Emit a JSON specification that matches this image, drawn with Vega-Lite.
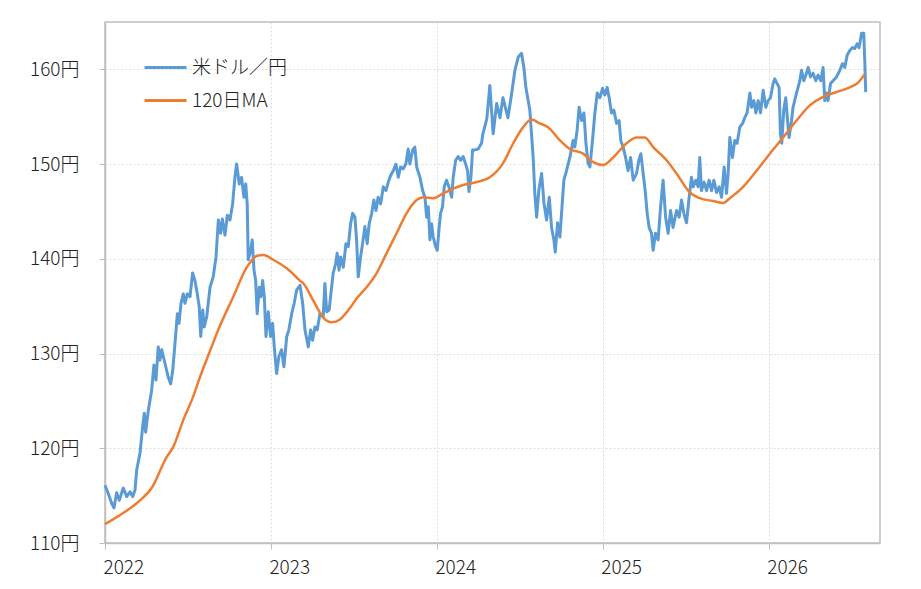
{
  "$schema": "https://vega.github.io/schema/vega-lite/v6.json",
  "width": 775,
  "height": 521,
  "autosize": {"type": "none"},
  "padding": {"left": 105, "top": 22, "right": 41, "bottom": 46},
  "background": "white",
  "config": {
    "font": "Noto Sans CJK JP",
    "view": {"stroke": "#bfbfbf", "strokeWidth": 1.5},
    "axis": {
      "title": null,
      "grid": true,
      "gridColor": "#dddddd",
      "gridDash": [2, 2],
      "gridWidth": 1,
      "domainColor": "#bfbfbf",
      "domainWidth": 1.5,
      "tickColor": "#bfbfbf",
      "tickSize": 6,
      "labelFontSize": 19,
      "labelFontWeight": 300,
      "labelColor": "#222222",
      "labelFont": "Noto Sans CJK JP"
    },
    "legend": {
      "orient": "none",
      "legendX": 38,
      "legendY": 23,
      "title": null,
      "padding": 0,
      "symbolType": "stroke",
      "symbolSize": 1764,
      "symbolStrokeWidth": 3,
      "labelFontSize": 19,
      "labelFontWeight": 300,
      "labelColor": "#222222",
      "labelOffset": 4,
      "rowPadding": -12
    }
  },
  "encoding": {
    "x": {
      "field": "year",
      "type": "quantitative",
      "scale": {"domain": [2022, 2026.67], "nice": false, "zero": false},
      "axis": {
        "values": [2022, 2023, 2024, 2025, 2026],
        "format": "d",
        "labelAlign": "left",
        "labelOffset": -2,
        "labelPadding": 9,
        "labelBaseline": "top"
      }
    },
    "y": {
      "field": "value",
      "type": "quantitative",
      "scale": {"domain": [110, 165], "nice": false, "zero": false},
      "axis": {
        "values": [110, 120, 130, 140, 150, 160],
        "labelExpr": "datum.value + '円'",
        "labelPadding": 20
      }
    }
  },
  "layer": [
    {
      "data": {"values": [
        {"year": 2022.000, "value": 116.1},
        {"year": 2022.020, "value": 115.2},
        {"year": 2022.040, "value": 114.2},
        {"year": 2022.054, "value": 113.7},
        {"year": 2022.070, "value": 115.3},
        {"year": 2022.086, "value": 114.5},
        {"year": 2022.110, "value": 115.8},
        {"year": 2022.131, "value": 114.9},
        {"year": 2022.151, "value": 115.4},
        {"year": 2022.167, "value": 114.9},
        {"year": 2022.181, "value": 115.6},
        {"year": 2022.191, "value": 117.7},
        {"year": 2022.211, "value": 119.5},
        {"year": 2022.227, "value": 122.3},
        {"year": 2022.237, "value": 123.7},
        {"year": 2022.245, "value": 121.7},
        {"year": 2022.261, "value": 124.0},
        {"year": 2022.281, "value": 126.1},
        {"year": 2022.295, "value": 128.8},
        {"year": 2022.307, "value": 127.2},
        {"year": 2022.321, "value": 130.7},
        {"year": 2022.331, "value": 129.3},
        {"year": 2022.342, "value": 130.4},
        {"year": 2022.361, "value": 129.0},
        {"year": 2022.381, "value": 127.5},
        {"year": 2022.396, "value": 126.8},
        {"year": 2022.408, "value": 128.2},
        {"year": 2022.422, "value": 131.1},
        {"year": 2022.436, "value": 134.2},
        {"year": 2022.446, "value": 133.2},
        {"year": 2022.458, "value": 135.3},
        {"year": 2022.472, "value": 136.3},
        {"year": 2022.482, "value": 135.3},
        {"year": 2022.496, "value": 136.3},
        {"year": 2022.512, "value": 136.0},
        {"year": 2022.528, "value": 138.5},
        {"year": 2022.542, "value": 137.7},
        {"year": 2022.556, "value": 136.3},
        {"year": 2022.568, "value": 134.9},
        {"year": 2022.577, "value": 131.8},
        {"year": 2022.589, "value": 134.6},
        {"year": 2022.598, "value": 132.8},
        {"year": 2022.613, "value": 133.9},
        {"year": 2022.633, "value": 137.0},
        {"year": 2022.652, "value": 138.1},
        {"year": 2022.669, "value": 140.2},
        {"year": 2022.683, "value": 144.1},
        {"year": 2022.697, "value": 142.7},
        {"year": 2022.707, "value": 144.2},
        {"year": 2022.723, "value": 142.5},
        {"year": 2022.737, "value": 144.6},
        {"year": 2022.753, "value": 144.1},
        {"year": 2022.769, "value": 145.8},
        {"year": 2022.783, "value": 148.6},
        {"year": 2022.793, "value": 150.0},
        {"year": 2022.809, "value": 147.9},
        {"year": 2022.823, "value": 148.6},
        {"year": 2022.837, "value": 146.5},
        {"year": 2022.848, "value": 147.9},
        {"year": 2022.857, "value": 145.8},
        {"year": 2022.863, "value": 139.9},
        {"year": 2022.878, "value": 140.9},
        {"year": 2022.887, "value": 142.0},
        {"year": 2022.898, "value": 138.8},
        {"year": 2022.908, "value": 137.7},
        {"year": 2022.917, "value": 134.2},
        {"year": 2022.930, "value": 137.0},
        {"year": 2022.940, "value": 136.0},
        {"year": 2022.950, "value": 137.7},
        {"year": 2022.960, "value": 136.0},
        {"year": 2022.970, "value": 131.8},
        {"year": 2022.984, "value": 134.4},
        {"year": 2022.998, "value": 131.8},
        {"year": 2023.010, "value": 133.2},
        {"year": 2023.020, "value": 130.7},
        {"year": 2023.034, "value": 127.9},
        {"year": 2023.048, "value": 129.7},
        {"year": 2023.064, "value": 130.4},
        {"year": 2023.078, "value": 128.6},
        {"year": 2023.095, "value": 131.8},
        {"year": 2023.108, "value": 132.5},
        {"year": 2023.125, "value": 134.2},
        {"year": 2023.140, "value": 135.3},
        {"year": 2023.155, "value": 136.7},
        {"year": 2023.175, "value": 137.2},
        {"year": 2023.191, "value": 135.3},
        {"year": 2023.205, "value": 132.5},
        {"year": 2023.225, "value": 130.7},
        {"year": 2023.239, "value": 132.5},
        {"year": 2023.251, "value": 131.4},
        {"year": 2023.265, "value": 132.8},
        {"year": 2023.279, "value": 132.5},
        {"year": 2023.295, "value": 134.2},
        {"year": 2023.315, "value": 133.9},
        {"year": 2023.325, "value": 137.4},
        {"year": 2023.336, "value": 134.4},
        {"year": 2023.351, "value": 134.6},
        {"year": 2023.361, "value": 136.3},
        {"year": 2023.375, "value": 138.5},
        {"year": 2023.390, "value": 139.5},
        {"year": 2023.399, "value": 140.6},
        {"year": 2023.410, "value": 138.8},
        {"year": 2023.420, "value": 140.2},
        {"year": 2023.436, "value": 139.1},
        {"year": 2023.452, "value": 141.6},
        {"year": 2023.466, "value": 141.3},
        {"year": 2023.480, "value": 143.7},
        {"year": 2023.492, "value": 144.8},
        {"year": 2023.506, "value": 144.4},
        {"year": 2023.516, "value": 142.0},
        {"year": 2023.526, "value": 138.1},
        {"year": 2023.540, "value": 140.2},
        {"year": 2023.552, "value": 141.6},
        {"year": 2023.566, "value": 143.4},
        {"year": 2023.580, "value": 141.6},
        {"year": 2023.592, "value": 143.7},
        {"year": 2023.607, "value": 144.8},
        {"year": 2023.620, "value": 146.2},
        {"year": 2023.633, "value": 145.1},
        {"year": 2023.646, "value": 146.5},
        {"year": 2023.661, "value": 145.8},
        {"year": 2023.677, "value": 147.6},
        {"year": 2023.693, "value": 147.2},
        {"year": 2023.707, "value": 148.1},
        {"year": 2023.721, "value": 148.8},
        {"year": 2023.737, "value": 149.3},
        {"year": 2023.753, "value": 150.0},
        {"year": 2023.767, "value": 148.6},
        {"year": 2023.781, "value": 149.7},
        {"year": 2023.797, "value": 149.5},
        {"year": 2023.813, "value": 150.0},
        {"year": 2023.827, "value": 151.6},
        {"year": 2023.837, "value": 150.0},
        {"year": 2023.854, "value": 151.5},
        {"year": 2023.867, "value": 151.8},
        {"year": 2023.878, "value": 149.7},
        {"year": 2023.898, "value": 148.6},
        {"year": 2023.914, "value": 147.2},
        {"year": 2023.928, "value": 146.5},
        {"year": 2023.938, "value": 144.4},
        {"year": 2023.948, "value": 145.5},
        {"year": 2023.958, "value": 142.0},
        {"year": 2023.968, "value": 143.7},
        {"year": 2023.978, "value": 142.3},
        {"year": 2023.992, "value": 141.3},
        {"year": 2024.002, "value": 140.9},
        {"year": 2024.012, "value": 143.0},
        {"year": 2024.022, "value": 144.8},
        {"year": 2024.034, "value": 145.5},
        {"year": 2024.044, "value": 147.6},
        {"year": 2024.058, "value": 148.3},
        {"year": 2024.072, "value": 147.6},
        {"year": 2024.089, "value": 146.5},
        {"year": 2024.098, "value": 148.6},
        {"year": 2024.113, "value": 150.4},
        {"year": 2024.128, "value": 150.8},
        {"year": 2024.143, "value": 150.4},
        {"year": 2024.158, "value": 150.8},
        {"year": 2024.173, "value": 150.0},
        {"year": 2024.185, "value": 149.3},
        {"year": 2024.193, "value": 147.1},
        {"year": 2024.205, "value": 148.6},
        {"year": 2024.215, "value": 151.5},
        {"year": 2024.229, "value": 151.5},
        {"year": 2024.249, "value": 151.6},
        {"year": 2024.269, "value": 152.2},
        {"year": 2024.277, "value": 153.2},
        {"year": 2024.301, "value": 154.8},
        {"year": 2024.319, "value": 158.3},
        {"year": 2024.339, "value": 153.2},
        {"year": 2024.360, "value": 156.4},
        {"year": 2024.380, "value": 154.9},
        {"year": 2024.398, "value": 157.0},
        {"year": 2024.428, "value": 154.9},
        {"year": 2024.450, "value": 157.4},
        {"year": 2024.470, "value": 159.9},
        {"year": 2024.490, "value": 161.3},
        {"year": 2024.510, "value": 161.7},
        {"year": 2024.524, "value": 160.2},
        {"year": 2024.536, "value": 158.1},
        {"year": 2024.550, "value": 156.7},
        {"year": 2024.560, "value": 155.7},
        {"year": 2024.570, "value": 153.2},
        {"year": 2024.580, "value": 150.7},
        {"year": 2024.590, "value": 146.9},
        {"year": 2024.601, "value": 144.4},
        {"year": 2024.614, "value": 147.2},
        {"year": 2024.631, "value": 149.0},
        {"year": 2024.645, "value": 145.9},
        {"year": 2024.661, "value": 144.1},
        {"year": 2024.677, "value": 146.5},
        {"year": 2024.691, "value": 143.3},
        {"year": 2024.705, "value": 142.0},
        {"year": 2024.713, "value": 140.7},
        {"year": 2024.727, "value": 143.8},
        {"year": 2024.741, "value": 142.3},
        {"year": 2024.751, "value": 144.8},
        {"year": 2024.765, "value": 148.3},
        {"year": 2024.781, "value": 149.3},
        {"year": 2024.801, "value": 150.7},
        {"year": 2024.821, "value": 152.5},
        {"year": 2024.831, "value": 151.8},
        {"year": 2024.845, "value": 153.6},
        {"year": 2024.857, "value": 156.0},
        {"year": 2024.872, "value": 154.6},
        {"year": 2024.886, "value": 155.4},
        {"year": 2024.898, "value": 152.2},
        {"year": 2024.911, "value": 150.1},
        {"year": 2024.922, "value": 149.7},
        {"year": 2024.936, "value": 152.2},
        {"year": 2024.952, "value": 155.4},
        {"year": 2024.966, "value": 157.5},
        {"year": 2024.982, "value": 157.0},
        {"year": 2024.998, "value": 158.0},
        {"year": 2025.012, "value": 157.3},
        {"year": 2025.026, "value": 158.1},
        {"year": 2025.038, "value": 157.0},
        {"year": 2025.052, "value": 155.4},
        {"year": 2025.066, "value": 155.7},
        {"year": 2025.083, "value": 154.3},
        {"year": 2025.098, "value": 154.6},
        {"year": 2025.108, "value": 152.5},
        {"year": 2025.122, "value": 151.8},
        {"year": 2025.137, "value": 150.7},
        {"year": 2025.152, "value": 149.3},
        {"year": 2025.167, "value": 150.7},
        {"year": 2025.183, "value": 148.3},
        {"year": 2025.203, "value": 149.0},
        {"year": 2025.217, "value": 150.4},
        {"year": 2025.229, "value": 151.1},
        {"year": 2025.243, "value": 149.0},
        {"year": 2025.255, "value": 147.2},
        {"year": 2025.267, "value": 144.8},
        {"year": 2025.279, "value": 143.3},
        {"year": 2025.293, "value": 142.7},
        {"year": 2025.303, "value": 140.9},
        {"year": 2025.317, "value": 142.7},
        {"year": 2025.333, "value": 142.0},
        {"year": 2025.348, "value": 145.5},
        {"year": 2025.363, "value": 148.3},
        {"year": 2025.378, "value": 144.4},
        {"year": 2025.393, "value": 142.7},
        {"year": 2025.408, "value": 145.1},
        {"year": 2025.423, "value": 143.3},
        {"year": 2025.444, "value": 145.1},
        {"year": 2025.460, "value": 144.4},
        {"year": 2025.474, "value": 146.2},
        {"year": 2025.488, "value": 144.8},
        {"year": 2025.504, "value": 143.8},
        {"year": 2025.520, "value": 146.5},
        {"year": 2025.534, "value": 148.6},
        {"year": 2025.544, "value": 147.6},
        {"year": 2025.560, "value": 148.3},
        {"year": 2025.574, "value": 147.6},
        {"year": 2025.584, "value": 150.7},
        {"year": 2025.594, "value": 147.2},
        {"year": 2025.610, "value": 148.1},
        {"year": 2025.625, "value": 147.2},
        {"year": 2025.640, "value": 148.3},
        {"year": 2025.655, "value": 147.2},
        {"year": 2025.669, "value": 148.3},
        {"year": 2025.685, "value": 147.0},
        {"year": 2025.701, "value": 147.6},
        {"year": 2025.715, "value": 146.5},
        {"year": 2025.731, "value": 149.7},
        {"year": 2025.745, "value": 146.9},
        {"year": 2025.755, "value": 149.0},
        {"year": 2025.765, "value": 152.8},
        {"year": 2025.781, "value": 150.7},
        {"year": 2025.795, "value": 152.5},
        {"year": 2025.809, "value": 152.2},
        {"year": 2025.825, "value": 153.9},
        {"year": 2025.842, "value": 154.3},
        {"year": 2025.855, "value": 154.9},
        {"year": 2025.869, "value": 155.4},
        {"year": 2025.886, "value": 157.5},
        {"year": 2025.896, "value": 156.0},
        {"year": 2025.910, "value": 156.7},
        {"year": 2025.922, "value": 155.4},
        {"year": 2025.936, "value": 156.7},
        {"year": 2025.950, "value": 155.4},
        {"year": 2025.966, "value": 157.8},
        {"year": 2025.982, "value": 156.0},
        {"year": 2025.996, "value": 156.7},
        {"year": 2026.010, "value": 157.0},
        {"year": 2026.026, "value": 158.5},
        {"year": 2026.036, "value": 159.0},
        {"year": 2026.050, "value": 158.5},
        {"year": 2026.062, "value": 158.1},
        {"year": 2026.070, "value": 153.2},
        {"year": 2026.078, "value": 152.2},
        {"year": 2026.090, "value": 155.7},
        {"year": 2026.102, "value": 157.0},
        {"year": 2026.113, "value": 154.6},
        {"year": 2026.122, "value": 152.8},
        {"year": 2026.137, "value": 154.6},
        {"year": 2026.146, "value": 156.0},
        {"year": 2026.167, "value": 157.5},
        {"year": 2026.187, "value": 158.8},
        {"year": 2026.197, "value": 159.9},
        {"year": 2026.211, "value": 158.8},
        {"year": 2026.227, "value": 159.6},
        {"year": 2026.237, "value": 160.2},
        {"year": 2026.251, "value": 159.2},
        {"year": 2026.267, "value": 159.6},
        {"year": 2026.283, "value": 158.8},
        {"year": 2026.297, "value": 159.4},
        {"year": 2026.313, "value": 158.8},
        {"year": 2026.327, "value": 160.2},
        {"year": 2026.337, "value": 156.7},
        {"year": 2026.347, "value": 157.5},
        {"year": 2026.357, "value": 156.7},
        {"year": 2026.372, "value": 158.5},
        {"year": 2026.387, "value": 158.8},
        {"year": 2026.408, "value": 159.2},
        {"year": 2026.428, "value": 159.9},
        {"year": 2026.444, "value": 160.6},
        {"year": 2026.458, "value": 160.2},
        {"year": 2026.472, "value": 161.5},
        {"year": 2026.488, "value": 162.0},
        {"year": 2026.504, "value": 162.3},
        {"year": 2026.518, "value": 162.2},
        {"year": 2026.532, "value": 162.7},
        {"year": 2026.544, "value": 162.3},
        {"year": 2026.559, "value": 163.8},
        {"year": 2026.572, "value": 163.8},
        {"year": 2026.578, "value": 161.0},
        {"year": 2026.584, "value": 157.6}
      ]},
      "mark": {"type": "line", "strokeWidth": 3, "strokeJoin": "round"},
      "encoding": {
        "color": {
          "datum": "米ドル／円",
          "type": "nominal",
          "scale": {"domain": ["米ドル／円", "120日MA"], "range": ["#5B9BD5", "#ED7D31"]}
        }
      }
    },
    {
      "data": {"values": [
        {"year": 2022.000, "value": 112.0},
        {"year": 2022.191, "value": 114.2},
        {"year": 2022.211, "value": 114.5},
        {"year": 2022.281, "value": 115.8},
        {"year": 2022.372, "value": 119.1},
        {"year": 2022.410, "value": 120.1},
        {"year": 2022.472, "value": 123.0},
        {"year": 2022.530, "value": 125.4},
        {"year": 2022.572, "value": 127.5},
        {"year": 2022.651, "value": 131.1},
        {"year": 2022.673, "value": 132.1},
        {"year": 2022.773, "value": 136.0},
        {"year": 2022.854, "value": 139.1},
        {"year": 2022.914, "value": 140.3},
        {"year": 2022.954, "value": 140.4},
        {"year": 2023.014, "value": 139.9},
        {"year": 2023.095, "value": 139.0},
        {"year": 2023.175, "value": 137.7},
        {"year": 2023.195, "value": 137.4},
        {"year": 2023.255, "value": 135.6},
        {"year": 2023.315, "value": 133.8},
        {"year": 2023.366, "value": 133.3},
        {"year": 2023.416, "value": 133.6},
        {"year": 2023.476, "value": 134.8},
        {"year": 2023.516, "value": 135.8},
        {"year": 2023.576, "value": 137.0},
        {"year": 2023.637, "value": 138.5},
        {"year": 2023.697, "value": 140.6},
        {"year": 2023.757, "value": 142.7},
        {"year": 2023.817, "value": 144.8},
        {"year": 2023.878, "value": 146.2},
        {"year": 2023.917, "value": 146.5},
        {"year": 2023.978, "value": 146.4},
        {"year": 2024.038, "value": 146.9},
        {"year": 2024.098, "value": 147.4},
        {"year": 2024.158, "value": 147.8},
        {"year": 2024.239, "value": 148.1},
        {"year": 2024.319, "value": 148.6},
        {"year": 2024.399, "value": 150.1},
        {"year": 2024.460, "value": 152.2},
        {"year": 2024.520, "value": 153.9},
        {"year": 2024.570, "value": 154.7},
        {"year": 2024.620, "value": 154.3},
        {"year": 2024.670, "value": 153.9},
        {"year": 2024.741, "value": 152.5},
        {"year": 2024.801, "value": 151.6},
        {"year": 2024.881, "value": 151.1},
        {"year": 2024.942, "value": 150.2},
        {"year": 2025.002, "value": 149.9},
        {"year": 2025.062, "value": 150.7},
        {"year": 2025.143, "value": 152.2},
        {"year": 2025.203, "value": 152.8},
        {"year": 2025.253, "value": 152.8},
        {"year": 2025.303, "value": 151.8},
        {"year": 2025.384, "value": 150.4},
        {"year": 2025.444, "value": 149.0},
        {"year": 2025.524, "value": 147.0},
        {"year": 2025.584, "value": 146.4},
        {"year": 2025.664, "value": 146.1},
        {"year": 2025.725, "value": 145.9},
        {"year": 2025.765, "value": 146.4},
        {"year": 2025.845, "value": 147.6},
        {"year": 2025.926, "value": 149.3},
        {"year": 2026.006, "value": 151.1},
        {"year": 2026.086, "value": 152.8},
        {"year": 2026.167, "value": 154.6},
        {"year": 2026.247, "value": 156.2},
        {"year": 2026.327, "value": 157.1},
        {"year": 2026.408, "value": 157.6},
        {"year": 2026.488, "value": 158.1},
        {"year": 2026.538, "value": 158.6},
        {"year": 2026.578, "value": 159.5}
      ]},
      "mark": {"type": "line", "strokeWidth": 2.5, "interpolate": "monotone"},
      "encoding": {
        "color": {
          "datum": "120日MA",
          "type": "nominal",
          "scale": {"domain": ["米ドル／円", "120日MA"], "range": ["#5B9BD5", "#ED7D31"]}
        }
      }
    }
  ]
}
